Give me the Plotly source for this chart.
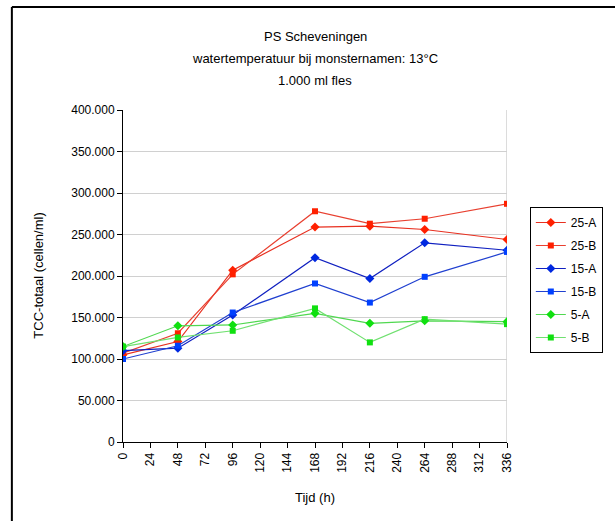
import plotly.graph_objects as go

# Sampling times (hours)
tijd = [0, 48, 96, 168, 216, 264, 336]

# Total cell count per series (cells/ml)
s25a = [105000, 121000, 207000, 259000, 260000, 256000, 244000]
s25b = [107000, 131000, 202000, 278000, 263000, 269000, 287000]
s15a = [110000, 113000, 153000, 222000, 197000, 240000, 231000]
s15b = [100000, 116000, 156000, 191000, 168000, 199000, 229000]
s5a = [115000, 140000, 141000, 155000, 143000, 146000, 145000]
s5b = [115000, 126000, 134000, 161000, 120000, 148000, 142000]

x_ticks = list(range(0, 337, 24))
y_ticks = list(range(0, 400001, 50000))
y_labels = ["0" if v == 0 else f"{v // 1000}.000" for v in y_ticks]

title_lines = ["PS Scheveningen", "watertemperatuur bij monsternamen: 13°C", "1.000 ml fles"]

series = [
    ("25-A", s25a, "#E83020", "#FF2000", "diamond", 7),
    ("25-B", s25b, "#E84030", "#FF2000", "square", 6),
    ("15-A", s15a, "#1020C0", "#0028E0", "diamond", 7),
    ("15-B", s15b, "#2040D0", "#0040FF", "square", 6),
    ("5-A", s5a, "#50D850", "#10E010", "diamond", 7),
    ("5-B", s5b, "#70E070", "#10E010", "square", 6),
]

FONT = "Liberation Sans, Arial, sans-serif"

fig = go.Figure()
for i, (name, vals, lc, mc, sym, ms) in enumerate(series):
    fig.add_trace(go.Scatter(
        x=tijd, y=vals, name=name, mode="lines+markers",
        line=dict(color=lc, width=1.2),
        marker=dict(symbol=sym, size=ms, color=mc, line=dict(width=0)),
        legendgroup=f"g{i}",
    ))

W, H = 615, 521
ML, MR, MT, MB = 123, 105, 110, 79
PW, PH = W - ML - MR, H - MT - MB


def py(p):
    return (H - MB - p) / PH


def px(p):
    return (p - ML) / PW


annotations = []
for txt, ypix in zip(title_lines, [37, 58, 80]):
    annotations.append(dict(
        text=txt, x=0.5, xref="paper", y=py(ypix), yref="paper",
        xanchor="center", yanchor="middle", showarrow=False,
        font=dict(size=13, color="#000000", family=FONT),
    ))
annotations.append(dict(
    text="Tijd (h)", x=0.5, xref="paper", y=py(498), yref="paper",
    xanchor="center", yanchor="middle", showarrow=False,
    font=dict(size=13, color="#000000", family=FONT),
))
annotations.append(dict(
    text="TCC-totaal (cellen/ml)", x=px(37), xref="paper", y=0.5, yref="paper",
    xanchor="center", yanchor="middle", showarrow=False, textangle=-90,
    font=dict(size=13, color="#000000", family=FONT),
))

shapes = [
    # outer frame (left and top edges)
    dict(type="line", xref="paper", yref="paper", x0=px(11), x1=px(11),
         y0=py(7), y1=py(530), line=dict(color="#000000", width=2)),
    dict(type="line", xref="paper", yref="paper", x0=px(11), x1=px(620),
         y0=py(7), y1=py(7), line=dict(color="#000000", width=2)),
    # right edge of the plot area
    dict(type="line", xref="x", yref="paper", x0=336, x1=336, y0=0, y1=1,
         line=dict(color="#B8B8B8", width=1), layer="below"),
]

fig.update_layout(
    width=W, height=H,
    margin=dict(l=ML, r=MR, t=MT, b=MB),
    paper_bgcolor="#FFFFFF", plot_bgcolor="#FFFFFF",
    font=dict(family=FONT, size=12, color="#000000"),
    showlegend=True,
    legend=dict(
        x=px(533), y=py(207), xanchor="left", yanchor="top",
        bordercolor="#000000", borderwidth=1, bgcolor="#FFFFFF",
        font=dict(size=12, family=FONT), tracegroupgap=4,
        itemwidth=30,
    ),
    annotations=annotations,
    shapes=shapes,
)

fig.update_xaxes(
    range=[0, 336], tickvals=x_ticks, ticktext=[str(v) for v in x_ticks],
    tickangle=-90, ticks="outside", ticklen=5, tickcolor="#000000",
    showline=True, linecolor="#000000", linewidth=1, showgrid=False,
    zeroline=False, tickfont=dict(size=12, family=FONT),
)
fig.update_yaxes(
    range=[0, 400000], tickvals=y_ticks, ticktext=y_labels,
    ticks="outside", ticklen=5, tickcolor="#000000",
    showline=True, linecolor="#000000", linewidth=1,
    showgrid=True, gridcolor="#D0D0D0", gridwidth=1,
    zeroline=False, tickfont=dict(size=12, family=FONT),
)

fig.write_html("out.html")
